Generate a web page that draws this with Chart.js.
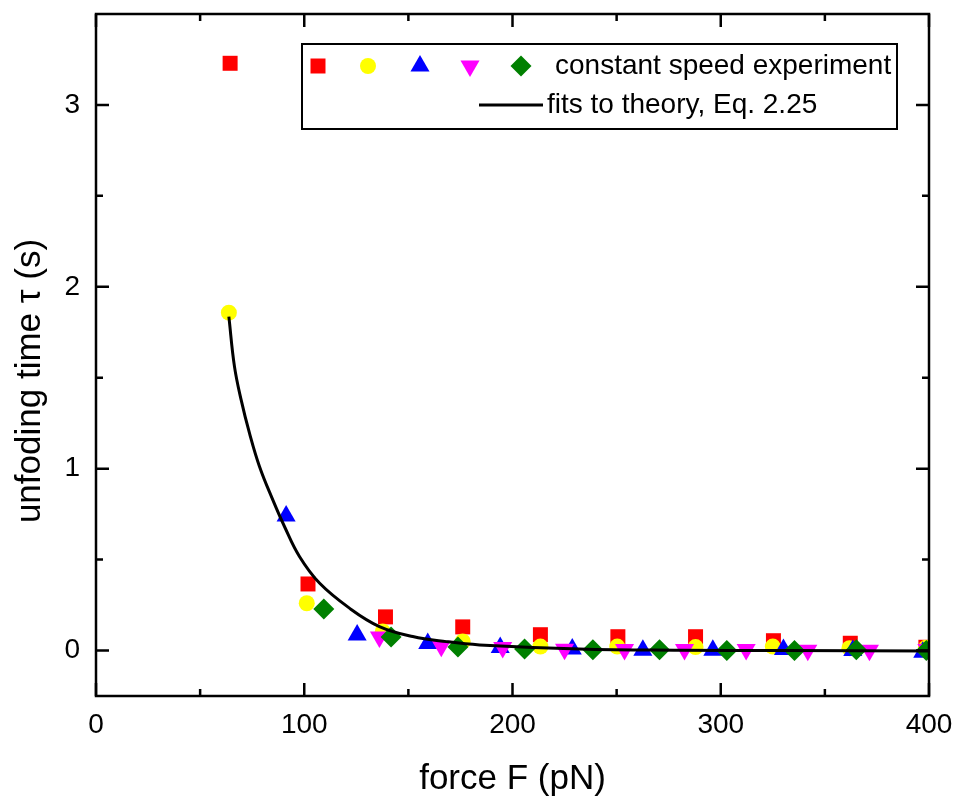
<!DOCTYPE html>
<html>
<head>
<meta charset="utf-8">
<script src="https://cdn.jsdelivr.net/npm/chart.js@4.4.1/dist/chart.umd.min.js"></script>
<style>
  html, body { margin: 0; padding: 0; background: #fff; }
  #wrap { width: 955px; height: 799px; }
</style>
</head>
<body>
<div id="wrap"><canvas id="chart" width="955" height="799"></canvas></div>
<script>
const FONT = '"Liberation Sans", Arial, sans-serif';

// constant speed experiment, force F (pN) vs unfolding time (s)
const redX = [64.4, 101.8, 139.0, 176.1, 213.4, 250.6, 287.9, 325.3, 362.2, 398.5];
const redY = [3.229, 0.366, 0.185, 0.130, 0.087, 0.076, 0.076, 0.054, 0.040, 0.018];

const yellowX = [63.8, 101.2, 137.7, 176.1, 213.4, 250.3, 287.9, 325.0, 361.8, 398.5];
const yellowY = [1.858, 0.260, 0.105, 0.050, 0.022, 0.022, 0.019, 0.022, 0.013, 0.015];

const blueX = [91.3, 125.4, 159.3, 194.1, 228.7, 262.6, 296.2, 330.1, 363.4, 397.0];
const blueY = [0.740, 0.085, 0.038, 0.016, 0.008, 0.002, 0.002, 0.006, 0.000, -0.010];

const magentaX = [136.1, 165.8, 195.3, 225.0, 253.8, 282.6, 312.2, 341.8, 371.4, 399.0];
const magentaY = [0.074, 0.023, 0.016, 0.007, 0.005, 0.005, 0.005, 0.001, 0.001, 0.005];

const greenX = [109.4, 141.7, 173.8, 205.8, 238.6, 270.6, 302.9, 335.4, 365.1, 398.7];
const greenY = [0.228, 0.074, 0.020, 0.008, 0.004, 0.004, 0.000, 0.000, 0.004, 0.000];

// fit to theory, Eq. 2.25
const fitX = [63.8, 66.5, 69.7, 73.7, 78.5, 84.9, 90.5, 97.7, 107.3, 121.7, 136.1, 152.1, 168.2, 184.2, 232, 280, 330, 400];
const fitY = [1.836, 1.561, 1.378, 1.195, 1.012, 0.828, 0.682, 0.517, 0.371, 0.233, 0.132, 0.077, 0.049, 0.031, 0.009, 0.002, 0.000, -0.003];

const xTicks = [0, 100, 200, 300, 400];
const xMinor = [50, 150, 250, 350];
const yTicks = [0, 1, 2, 3];
const yMinor = [0.5, 1.5, 2.5];

const pts = (xs, ys) => xs.map((x, i) => ({ x, y: ys[i] }));

const marker = (label, xs, ys, color, style, radius, rotation, order) => ({
    label,
    data: pts(xs, ys),
    showLine: false,
    pointStyle: style,
    pointRadius: radius,
    pointHoverRadius: radius,
    pointRotation: rotation,
    pointBackgroundColor: color,
    pointBorderWidth: 0,
    backgroundColor: color,
    borderColor: color,
    clip: 0,
    order
});

const series = [
    marker('red', redX, redY, '#ff0000', 'rect', 10.6, 0, 5),
    marker('yellow', yellowX, yellowY, '#ffff00', 'circle', 8, 0, 4),
    marker('blue', blueX, blueY, '#0000ff', 'triangle', 11, 0, 3),
    marker('magenta', magentaX, magentaY, '#ff00ff', 'triangle', 11, 180, 2),
    marker('green', greenX, greenY, '#008000', 'rectRot', 10.5, 0, 1),
    {
        label: 'fits to theory, Eq. 2.25',
        data: pts(fitX, fitY),
        showLine: true,
        borderColor: '#000',
        borderWidth: 3,
        pointRadius: 0,
        tension: 0.4,
        clip: 0,
        order: 0
    }
];

// frame + inward ticks on all four sides
const framePlugin = {
    id: 'frame',
    afterDatasetsDraw(chart) {
        const { ctx, chartArea: a, scales: { x, y } } = chart;
        ctx.save();
        ctx.strokeStyle = '#000';
        ctx.lineWidth = 2.5;
        ctx.beginPath();
        const tick = (vals, len, horiz) => vals.forEach(v => {
            if (horiz) {
                const px = x.getPixelForValue(v);
                ctx.moveTo(px, a.bottom); ctx.lineTo(px, a.bottom - len);
                ctx.moveTo(px, a.top); ctx.lineTo(px, a.top + len);
            } else {
                const py = y.getPixelForValue(v);
                ctx.moveTo(a.left, py); ctx.lineTo(a.left + len, py);
                ctx.moveTo(a.right, py); ctx.lineTo(a.right - len, py);
            }
        });
        tick(xTicks, 13, true);
        tick(xMinor, 7, true);
        tick(yTicks, 13, false);
        tick(yMinor, 7, false);
        ctx.stroke();
        ctx.strokeRect(a.left, a.top, a.right - a.left, a.bottom - a.top);
        ctx.restore();
    }
};

const titlePlugin = {
    id: 'titles',
    afterDraw(chart) {
        const { ctx, chartArea: a } = chart;
        ctx.save();
        ctx.fillStyle = '#000';
        ctx.font = '35px ' + FONT;
        ctx.textAlign = 'center';
        ctx.textBaseline = 'alphabetic';
        ctx.fillText('force F (pN)', (a.left + a.right) / 2, 789);
        ctx.translate(30, 381);
        ctx.rotate(-Math.PI / 2);
        ctx.textBaseline = 'middle';
        ctx.fillText('unfoding time \u03c4 (s)', 0, 0);
        ctx.restore();
    }
};

const legendPlugin = {
    id: 'boxLegend',
    afterDraw(chart) {
        const { ctx } = chart;
        ctx.save();
        ctx.fillStyle = '#fff';
        ctx.fillRect(302, 44, 595, 85);
        ctx.strokeStyle = '#000';
        ctx.lineWidth = 2;
        ctx.strokeRect(302, 44, 595, 85);
        const xs = [318, 368, 420, 470, 521];
        series.slice(0, 5).forEach((s, i) => {
            ctx.fillStyle = s.pointBackgroundColor;
            Chart.helpers.drawPoint(ctx, {
                pointStyle: s.pointStyle, radius: s.pointRadius,
                rotation: s.pointRotation, borderWidth: 0
            }, xs[i], 66);
        });
        ctx.fillStyle = '#000';
        ctx.font = '28px ' + FONT;
        ctx.textAlign = 'left';
        ctx.textBaseline = 'middle';
        ctx.fillText('constant speed experiment', 555, 66);
        ctx.beginPath();
        ctx.lineWidth = 3;
        ctx.moveTo(479, 105);
        ctx.lineTo(543, 105);
        ctx.stroke();
        ctx.fillText('fits to theory, Eq. 2.25', 547, 105);
        ctx.restore();
    }
};

const noPad = s => { s.paddingLeft = 0; s.paddingRight = 0; s.paddingTop = 0; s.paddingBottom = 0; };

new Chart(document.getElementById('chart'), {
    type: 'scatter',
    data: { datasets: series },
    options: {
        responsive: false,
        animation: false,
        events: [],
        layout: { padding: { top: 14, right: 26, left: 0, bottom: 0 } },
        plugins: { legend: { display: false }, tooltip: { enabled: false } },
        scales: {
            x: {
                type: 'linear', min: 0, max: 400,
                afterBuildTicks: s => { s.ticks = xTicks.map(v => ({ value: v })); },
                afterFit: s => { s.height = 103; noPad(s); },
                grid: { display: false, drawTicks: false },
                border: { display: false },
                ticks: { color: '#000', padding: 12, maxRotation: 0, font: { family: FONT, size: 28 } }
            },
            y: {
                type: 'linear', min: -0.25, max: 3.5,
                afterBuildTicks: s => { s.ticks = yTicks.map(v => ({ value: v })); },
                afterFit: s => { s.width = 96; noPad(s); },
                grid: { display: false, drawTicks: false },
                border: { display: false },
                ticks: { color: '#000', padding: 16, font: { family: FONT, size: 28 } }
            }
        }
    },
    plugins: [framePlugin, titlePlugin, legendPlugin]
});
</script>
</body>
</html>
